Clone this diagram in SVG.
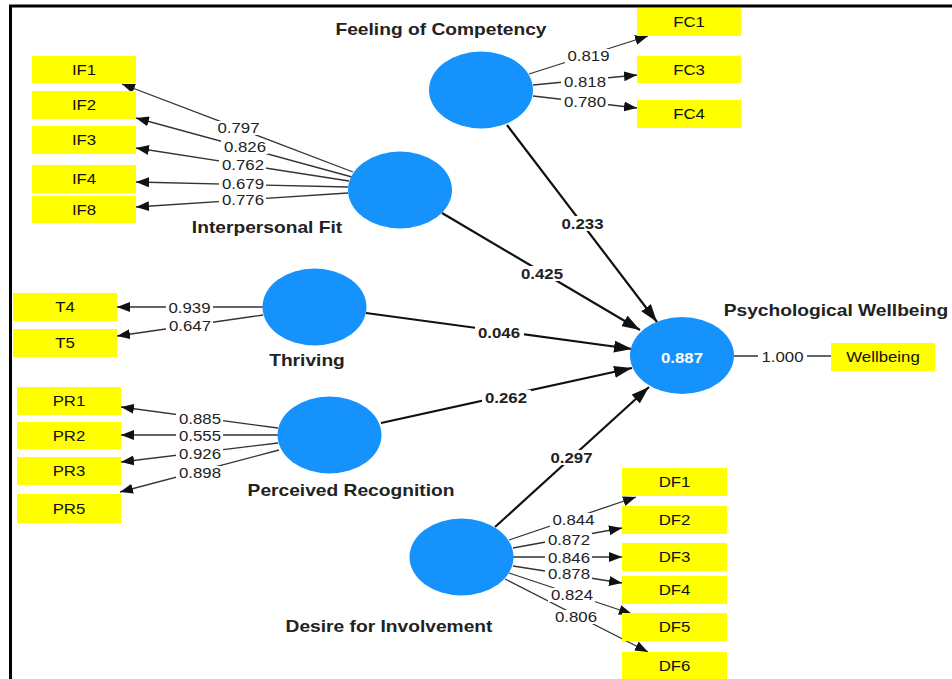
<svg xmlns="http://www.w3.org/2000/svg" width="952" height="679" viewBox="0 0 952 679">
  <defs>
    <style>
      text { font-family: "Liberation Sans", Arial, sans-serif; text-anchor: middle; }
      .lv { fill: #1592fb; }
      .ind { fill: #ffff00; }
      .title { font-size: 16px; font-weight: bold; fill: #222; }
      .ilabel { font-size: 14px; fill: #111; }
      .load { stroke: #333; stroke-width: 1.3; fill: none; }
      .path { stroke: #111; stroke-width: 2.2; fill: none; }
      .lnum { font-size: 14px; fill: #222; }
      .pnum { font-size: 14px; font-weight: bold; fill: #222; }
      .r2 { font-size: 14px; font-weight: bold; fill: #fff; }
      .bg { fill: #fff; }
      .frame { stroke: #000; stroke-width: 3; fill: none; }
    </style>
    <marker id="arrS" markerUnits="userSpaceOnUse" markerWidth="13" markerHeight="10" refX="13" refY="5" orient="auto">
      <path d="M0,0 L13,5 L0,10 z" fill="#111"/>
    </marker>
    <marker id="arrL" markerUnits="userSpaceOnUse" markerWidth="18" markerHeight="12" refX="18" refY="6" orient="auto">
      <path d="M0,0 L18,6 L0,12 z" fill="#111"/>
    </marker>
  </defs>

  <rect width="952" height="679" fill="#fff"/>
  <!-- frame -->
  <path class="frame" d="M10.5,679 V6 H952"/>

  <!-- connectors -->
  <g id="connectors">
    <!-- outer loadings -->
    <line class="load" x1="353" y1="172" x2="122" y2="84" marker-end="url(#arrS)"/>
    <line class="load" x1="352" y1="177" x2="136" y2="118" marker-end="url(#arrS)"/>
    <line class="load" x1="349" y1="181" x2="136" y2="148" marker-end="url(#arrS)"/>
    <line class="load" x1="348" y1="187" x2="136" y2="182" marker-end="url(#arrS)"/>
    <line class="load" x1="348" y1="193" x2="136" y2="207" marker-end="url(#arrS)"/>

    <line class="load" x1="529" y1="74" x2="648" y2="36" marker-end="url(#arrS)"/>
    <line class="load" x1="533" y1="85" x2="637" y2="75" marker-end="url(#arrS)"/>
    <line class="load" x1="533" y1="96" x2="637" y2="108" marker-end="url(#arrS)"/>

    <line class="load" x1="263" y1="307" x2="117" y2="307" marker-end="url(#arrS)"/>
    <line class="load" x1="263" y1="315" x2="117" y2="336" marker-end="url(#arrS)"/>

    <line class="load" x1="278" y1="428" x2="121" y2="407" marker-end="url(#arrS)"/>
    <line class="load" x1="278" y1="435" x2="121" y2="435" marker-end="url(#arrS)"/>
    <line class="load" x1="278" y1="443" x2="121" y2="462" marker-end="url(#arrS)"/>
    <line class="load" x1="279" y1="450" x2="120" y2="492" marker-end="url(#arrS)"/>

    <line class="load" x1="509" y1="540" x2="636" y2="497" marker-end="url(#arrS)"/>
    <line class="load" x1="513" y1="548" x2="622" y2="528" marker-end="url(#arrS)"/>
    <line class="load" x1="513" y1="557" x2="622" y2="557" marker-end="url(#arrS)"/>
    <line class="load" x1="513" y1="566" x2="622" y2="583" marker-end="url(#arrS)"/>
    <line class="load" x1="509" y1="573" x2="632" y2="614" marker-end="url(#arrS)"/>
    <line class="load" x1="505" y1="579" x2="648" y2="652" marker-end="url(#arrS)"/>

    <line class="load" x1="734" y1="356" x2="831" y2="356"/>

    <!-- structural paths -->
    <line class="path" x1="507" y1="125" x2="657" y2="322" marker-end="url(#arrL)"/>
    <line class="path" x1="442" y1="213" x2="640" y2="330" marker-end="url(#arrL)"/>
    <line class="path" x1="366" y1="313" x2="632" y2="349" marker-end="url(#arrL)"/>
    <line class="path" x1="381" y1="423" x2="632" y2="368" marker-end="url(#arrL)"/>
    <line class="path" x1="495" y1="527" x2="649" y2="387" marker-end="url(#arrL)"/>

    <!-- coefficient labels -->
    <g id="loadings">
      <rect class="bg" x="215" y="121" width="47" height="14"/>
      <text class="lnum" transform="translate(238.5,133) scale(1.2,1)">0.797</text>
      <rect class="bg" x="221" y="140" width="47" height="14"/>
      <text class="lnum" transform="translate(245,152) scale(1.2,1)">0.826</text>
      <rect class="bg" x="219" y="158" width="47" height="14"/>
      <text class="lnum" transform="translate(243,170) scale(1.2,1)">0.762</text>
      <rect class="bg" x="219" y="177" width="47" height="14"/>
      <text class="lnum" transform="translate(243,189) scale(1.2,1)">0.679</text>
      <rect class="bg" x="219" y="193" width="47" height="14"/>
      <text class="lnum" transform="translate(243,205) scale(1.2,1)">0.776</text>

      <rect class="bg" x="565" y="49" width="47" height="14"/>
      <text class="lnum" transform="translate(588.5,61) scale(1.2,1)">0.819</text>
      <rect class="bg" x="561" y="75" width="47" height="14"/>
      <text class="lnum" transform="translate(585,87) scale(1.2,1)">0.818</text>
      <rect class="bg" x="561" y="95" width="47" height="14"/>
      <text class="lnum" transform="translate(585,107) scale(1.2,1)">0.780</text>

      <rect class="bg" x="166" y="301" width="47" height="14"/>
      <text class="lnum" transform="translate(189.5,313) scale(1.2,1)">0.939</text>
      <rect class="bg" x="166" y="319" width="47" height="14"/>
      <text class="lnum" transform="translate(190,331) scale(1.2,1)">0.647</text>

      <rect class="bg" x="176" y="412" width="47" height="14"/>
      <text class="lnum" transform="translate(200,424) scale(1.2,1)">0.885</text>
      <rect class="bg" x="176" y="429" width="47" height="14"/>
      <text class="lnum" transform="translate(200,441) scale(1.2,1)">0.555</text>
      <rect class="bg" x="176" y="447" width="47" height="14"/>
      <text class="lnum" transform="translate(200,459) scale(1.2,1)">0.926</text>
      <rect class="bg" x="176" y="466" width="47" height="14"/>
      <text class="lnum" transform="translate(200,478) scale(1.2,1)">0.898</text>

      <rect class="bg" x="550" y="513" width="47" height="14"/>
      <text class="lnum" transform="translate(573.5,525) scale(1.2,1)">0.844</text>
      <rect class="bg" x="545" y="533" width="47" height="14"/>
      <text class="lnum" transform="translate(569,545) scale(1.2,1)">0.872</text>
      <rect class="bg" x="545" y="551" width="47" height="14"/>
      <text class="lnum" transform="translate(569,563) scale(1.2,1)">0.846</text>
      <rect class="bg" x="545" y="567" width="47" height="14"/>
      <text class="lnum" transform="translate(569,579) scale(1.2,1)">0.878</text>
      <rect class="bg" x="548" y="588" width="47" height="14"/>
      <text class="lnum" transform="translate(572,600) scale(1.2,1)">0.824</text>
      <rect class="bg" x="552" y="610" width="47" height="14"/>
      <text class="lnum" transform="translate(576,622) scale(1.2,1)">0.806</text>

      <rect class="bg" x="758" y="350" width="49" height="14"/>
      <text class="lnum" transform="translate(782.5,362) scale(1.2,1)">1.000</text>
    </g>
    <g id="path-coefficients">
      <rect class="bg" x="558" y="216" width="49" height="15"/>
      <text class="pnum" transform="translate(582.5,229) scale(1.2,1)">0.233</text>
      <rect class="bg" x="518" y="266" width="49" height="15"/>
      <text class="pnum" transform="translate(542,279) scale(1.2,1)">0.425</text>
      <rect class="bg" x="475" y="325" width="49" height="15"/>
      <text class="pnum" transform="translate(499,338) scale(1.2,1)">0.046</text>
      <rect class="bg" x="482" y="390" width="49" height="15"/>
      <text class="pnum" transform="translate(506,403) scale(1.2,1)">0.262</text>
      <rect class="bg" x="547" y="450" width="49" height="15"/>
      <text class="pnum" transform="translate(571.5,463) scale(1.2,1)">0.297</text>
    </g>
  </g>

  <!-- latent variables -->
  <g id="feeling-of-competency">
    <ellipse class="lv" cx="481" cy="90" rx="52" ry="38.5"/>
    <text class="title" transform="translate(441,35) scale(1.2,1)">Feeling of Competency</text>
  </g>
  <g id="interpersonal-fit">
    <ellipse class="lv" cx="400" cy="190" rx="52" ry="38.5"/>
    <text class="title" transform="translate(267,233) scale(1.2,1)">Interpersonal Fit</text>
  </g>
  <g id="thriving">
    <ellipse class="lv" cx="314.5" cy="307" rx="52" ry="38.5"/>
    <text class="title" transform="translate(307,366) scale(1.2,1)">Thriving</text>
  </g>
  <g id="perceived-recognition">
    <ellipse class="lv" cx="329.5" cy="435" rx="52" ry="38.5"/>
    <text class="title" transform="translate(351,496) scale(1.2,1)">Perceived Recognition</text>
  </g>
  <g id="desire-for-involvement">
    <ellipse class="lv" cx="461.5" cy="557" rx="52" ry="38.5"/>
    <text class="title" transform="translate(389,632) scale(1.2,1)">Desire for Involvement</text>
  </g>
  <g id="psychological-wellbeing">
    <ellipse class="lv" cx="682" cy="355.5" rx="52" ry="38.5"/>
    <text class="r2" transform="translate(682,363) scale(1.2,1)">0.887</text>
    <text class="title" transform="translate(836,316) scale(1.2,1)">Psychological Wellbeing</text>
  </g>

  <!-- indicators -->
  <g id="IF1"><rect class="ind" x="32" y="56" width="104" height="27"/><text class="ilabel" transform="translate(84,75) scale(1.2,1)">IF1</text></g>
  <g id="IF2"><rect class="ind" x="32" y="91" width="104" height="28"/><text class="ilabel" transform="translate(84,110) scale(1.2,1)">IF2</text></g>
  <g id="IF3"><rect class="ind" x="32" y="126" width="104" height="28"/><text class="ilabel" transform="translate(84,145) scale(1.2,1)">IF3</text></g>
  <g id="IF4"><rect class="ind" x="32" y="165" width="104" height="28"/><text class="ilabel" transform="translate(84,184) scale(1.2,1)">IF4</text></g>
  <g id="IF8"><rect class="ind" x="32" y="196" width="104" height="27"/><text class="ilabel" transform="translate(84,215) scale(1.2,1)">IF8</text></g>

  <g id="FC1"><rect class="ind" x="637" y="8" width="104" height="28"/><text class="ilabel" transform="translate(689,27) scale(1.2,1)">FC1</text></g>
  <g id="FC3"><rect class="ind" x="637" y="56" width="104" height="27"/><text class="ilabel" transform="translate(689,75) scale(1.2,1)">FC3</text></g>
  <g id="FC4"><rect class="ind" x="637" y="100" width="104" height="28"/><text class="ilabel" transform="translate(689,119) scale(1.2,1)">FC4</text></g>

  <g id="T4"><rect class="ind" x="13" y="293" width="104" height="28"/><text class="ilabel" transform="translate(65,312) scale(1.2,1)">T4</text></g>
  <g id="T5"><rect class="ind" x="13" y="329" width="104" height="28"/><text class="ilabel" transform="translate(65,348) scale(1.2,1)">T5</text></g>

  <g id="PR1"><rect class="ind" x="17" y="387" width="104" height="28"/><text class="ilabel" transform="translate(69,406) scale(1.2,1)">PR1</text></g>
  <g id="PR2"><rect class="ind" x="17" y="422" width="104" height="27"/><text class="ilabel" transform="translate(69,441) scale(1.2,1)">PR2</text></g>
  <g id="PR3"><rect class="ind" x="17" y="457" width="104" height="28"/><text class="ilabel" transform="translate(69,476) scale(1.2,1)">PR3</text></g>
  <g id="PR5"><rect class="ind" x="17" y="494" width="104" height="29"/><text class="ilabel" transform="translate(69,514) scale(1.2,1)">PR5</text></g>

  <g id="DF1"><rect class="ind" x="622" y="468" width="105" height="28"/><text class="ilabel" transform="translate(674.5,487) scale(1.2,1)">DF1</text></g>
  <g id="DF2"><rect class="ind" x="622" y="506" width="105" height="28"/><text class="ilabel" transform="translate(674.5,525) scale(1.2,1)">DF2</text></g>
  <g id="DF3"><rect class="ind" x="622" y="543" width="105" height="28"/><text class="ilabel" transform="translate(674.5,562) scale(1.2,1)">DF3</text></g>
  <g id="DF4"><rect class="ind" x="622" y="576" width="105" height="28"/><text class="ilabel" transform="translate(674.5,595) scale(1.2,1)">DF4</text></g>
  <g id="DF5"><rect class="ind" x="622" y="613" width="105" height="28"/><text class="ilabel" transform="translate(674.5,632) scale(1.2,1)">DF5</text></g>
  <g id="DF6"><rect class="ind" x="622" y="652" width="105" height="28"/><text class="ilabel" transform="translate(674.5,671) scale(1.2,1)">DF6</text></g>

  <g id="Wellbeing"><rect class="ind" x="831" y="343" width="104" height="28"/><text class="ilabel" transform="translate(883,362) scale(1.2,1)">Wellbeing</text></g>
</svg>
